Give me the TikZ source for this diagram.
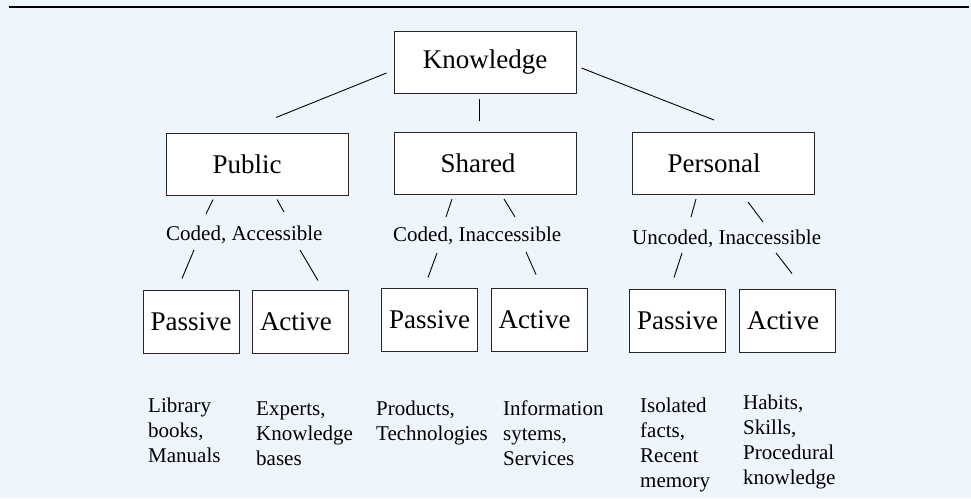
\documentclass[tikz,border=0pt]{standalone}
\usepackage{fontspec}
\setmainfont{Liberation Serif}
\definecolor{bgblue}{RGB}{238,245,252}
\newcommand\tick[4]{\draw [link] ([shift={#2}]#1) -- ([shift={#4}]#3) ; }
\newcommand\lpush[1]{\hspace*{#1}\mbox{}}
\tikzset{
    topbox/.style={draw=black!85, fill=white, line width=1pt, inner sep=0,
        minimum width=182pt, minimum height=62pt, font=\fontsize{27}{32}\selectfont},
    lowbox/.style={topbox, minimum width=96pt, minimum height=63pt,
        text width=81pt, inner xsep=7.5pt, align=left},
    tag/.style={anchor=base west, inner sep=0, font=\fontsize{21}{25}\selectfont},
    note/.style={tag, align=left},
    link/.style={line width=0.9pt}
}
\begin{document}
\begin{tikzpicture}[x=1pt, y=-1pt]
    \fill [bgblue] (0,0) rectangle (971,498);
    \useasboundingbox (0,0) rectangle (971,498);
    \draw [line width=1.3pt] (9,7) -- (969,7);

    % top level
    \node [topbox] (know) at (485,62.5) {Knowledge};
    \node [topbox] (pub) at (257,164) {Public\lpush{20pt}};
    \node [topbox] (shr) at (485,163.5) {Shared\lpush{14pt}};
    \node [topbox] (per) at (723,163.5) {Personal\lpush{18pt}};

    \tick{know.west}{(-7,10.5)}{pub.north}{(19,-15)}
    \tick{know.south}{(-6,5)}{shr.north}{(-6,-11)}
    \tick{know.east}{(5,5.5)}{per.north}{(-9,-12)}

    % kinds
    \node [tag] (pubc) at (166,240) {Coded, Accessible};
    \node [tag] (shrc) at (393,241) {Coded, Inaccessible};
    \node [tag] (perc) at (632,244) {Uncoded, Inaccessible};

    % passive and active boxes
    \node [lowbox] (pubpas) at (191,321.5) {Passive};
    \node [lowbox] (pubact) at (300.5,321.5) {Active};
    \node [lowbox] (shrpas) at (429.5,319.5) {Passive};
    \node [lowbox] (shract) at (539,319.5) {Active};
    \node [lowbox] (perpas) at (677.5,320.5) {Passive};
    \node [lowbox] (peract) at (787.5,320.5) {Active};

    % public
    \tick{pub.south}{(-44,4)}{pubc.base west}{(40,-26)}
    \tick{pub.south}{(20,4)}{pubc.base west}{(118,-28)}
    \tick{pubc.base west}{(28,10)}{pubpas.north}{(-9,-11)}
    \tick{pubc.base west}{(134,10)}{pubact.north}{(17.5,-9)}

    % shared
    \tick{shr.south}{(-33,4)}{shrc.base west}{(53,-24)}
    \tick{shr.south}{(19,4)}{shrc.base west}{(122,-24)}
    \tick{shrc.base west}{(44,12)}{shrpas.north}{(-1.5,-10)}
    \tick{shrc.base west}{(133,11)}{shract.north}{(-3,-13)}

    % personal
    \tick{per.south}{(-27,4)}{perc.base west}{(59,-27)}
    \tick{per.south}{(25,7)}{perc.base west}{(131,-22)}
    \tick{perc.base west}{(50,9)}{perpas.north}{(-3.5,-11)}
    \tick{perc.base west}{(144,9)}{peract.north}{(4.5,-15)}

    % examples (base sits under the last line)
    \node [note] (pubn) at (148,462) {Library\\books,\\Manuals};
    \node [note] (pubm) at (256,465) {Experts,\\Knowledge\\bases};
    \node [note] (shrn) at (376,440) {Products,\\Technologies};
    \node [note] (shrm) at (503,465) {Information\\sytems,\\Services};
    \node [note] (pern) at (640,487) {Isolated\\facts,\\Recent\\memory};
    \node [note] (perm) at (743,484) {Habits,\\Skills,\\Procedural\\knowledge};
\end{tikzpicture}
\end{document}
